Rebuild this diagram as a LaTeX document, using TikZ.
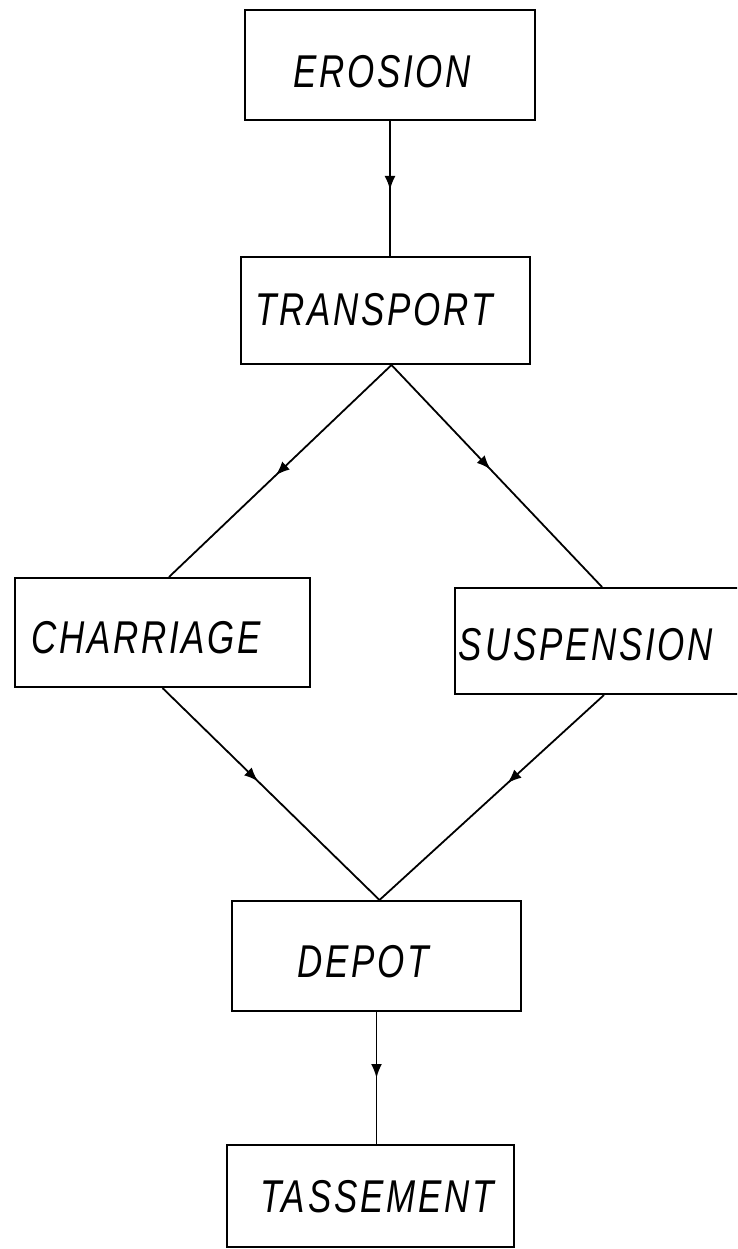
\documentclass[tikz,border=0pt]{standalone}
\usepackage{fontspec}
\newfontfamily\labfont[FakeStretch=0.76,LetterSpace=6]{Liberation Sans}
\usetikzlibrary{calc,arrows.meta,decorations.markings}
\tikzset{
  box/.style={draw=black, line width=2pt, rectangle, inner sep=0pt},
  lbl/.style={inner sep=0pt, font=\labfont\itshape\fontsize{46}{50}\selectfont},
  flow/.style={draw=black, line width=1.8pt,
    postaction={decorate},
    decoration={markings, mark=at position #1 with {\arrow{Latex[length=14pt,width=11pt]}}}},
  flow/.default=0.5
}
\begin{document}
\begin{tikzpicture}[x=1pt,y=-1pt]
\useasboundingbox (0,0) rectangle (737,1249);
\fill[white] (0,0) rectangle (737,1249);
\clip (0,0) rectangle (737,1249);
% boxes
\node[box, minimum width=290pt, minimum height=110pt] (ero) at (390,65) {};
\node[box, minimum width=289pt, minimum height=107pt] (tra) at (385.5,310.5) {};
\node[box, minimum width=295pt, minimum height=109pt] (cha) at (162.5,632.5) {};
\node[box, minimum width=310pt, minimum height=106pt] (sus) at (610,641) {};
\node[box, minimum width=289pt, minimum height=110pt] (dep) at (376.5,956) {};
\node[box, minimum width=287pt, minimum height=102pt] (tas) at (370.5,1196) {};
% labels
\node[lbl] (tero) at (382,72) {EROSION};
\node[lbl] (ttra) at (374,310) {TRANSPORT};
\node[lbl] (tcha) at (146,638) {CHARRIAGE};
\node[lbl] (tsus) at (586,645) {SUSPENSION};
\node[lbl] (tdep) at (363,962) {DEPOT};
\node[lbl] (ttas) at (377,1197) {TASSEMENT};
% connectors
\coordinate (apex) at ([xshift=6pt]tra.south);
\coordinate (vbot) at ([xshift=3pt]dep.north);
\draw[flow=0.51] (ero.south) -- (ero.south |- tra.north);
\draw[flow=0.52] (apex) -- ([xshift=6.5pt]cha.north);
\draw[flow=0.47] (apex) -- ([xshift=-8pt]sus.north);
\draw[flow=0.44] (cha.south) -- (vbot);
\draw[flow=0.43] ([xshift=-6pt]sus.south) -- (vbot);
\draw[flow=0.5] (dep.south) -- (dep.south |- tas.north);
\end{tikzpicture}
\end{document}
